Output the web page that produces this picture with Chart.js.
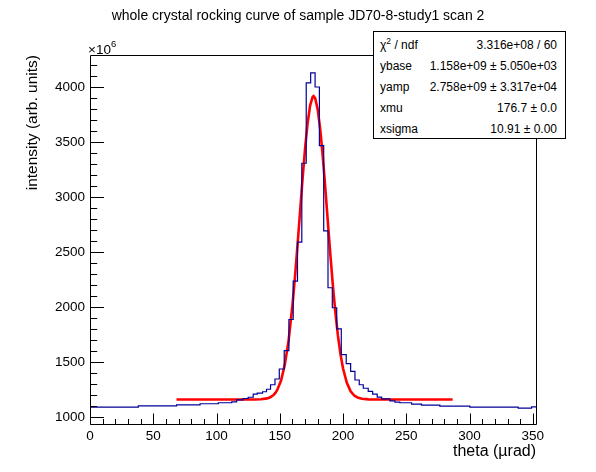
<!DOCTYPE html>
<html>
<head>
<meta charset="utf-8">
<script src="https://cdn.jsdelivr.net/npm/chart.js@4.4.1/dist/chart.umd.min.js"></script>
<style>
html,body{margin:0;padding:0;background:#fff;}
#wrap{position:relative;width:596px;height:472px;font-family:"Liberation Sans",Arial,Helvetica,sans-serif;color:#000;}
canvas{position:absolute;left:0;top:0;}
#title{position:absolute;left:0;width:596px;top:6px;text-align:center;font-size:14px;line-height:18px;white-space:nowrap;}
#mult{position:absolute;left:88px;top:37px;font-size:13.5px;line-height:16px;white-space:nowrap;}
#mult sup{font-size:9.5px;position:relative;top:-1px;}
#stats{position:absolute;left:373px;top:31px;width:191px;height:106px;border:1px solid #000;background:#fff;font-size:12px;}
.row{position:absolute;left:6px;right:8px;height:16px;line-height:16px;white-space:nowrap;}
.row .k{position:absolute;left:0;top:0;}
.row .v{position:absolute;right:0;top:0;}
.row sup{font-size:8.5px;line-height:0;}
</style>
</head>
<body>
<div id="wrap">
  <canvas id="c" width="596" height="472"></canvas>
  <div id="title">whole crystal rocking curve of sample JD70-8-study1 scan 2</div>
  <div id="mult">×10<sup>6</sup></div>
  <div id="stats">
    <div class="row" style="top:4.5px"><span class="k">χ<sup>2</sup> / ndf</span><span class="v">3.316e+08 / 60</span></div>
    <div class="row" style="top:25.5px"><span class="k">ybase</span><span class="v">1.158e+09 ± 5.050e+03</span></div>
    <div class="row" style="top:46.5px"><span class="k">yamp</span><span class="v">2.758e+09 ± 3.317e+04</span></div>
    <div class="row" style="top:67.5px"><span class="k">xmu</span><span class="v">176.7 ± 0.0</span></div>
    <div class="row" style="top:88.5px"><span class="k">xsigma</span><span class="v">10.91 ± 0.00</span></div>
  </div>
</div>
<script>
// ---- data (intensity in units of 10^6) ----
const binEdges = [0, 38.2, 68.4, 87, 101.4, 112, 115.9, 121, 125, 129, 132.2, 136.4, 139.5, 142.7, 146.2, 149.6, 153.5, 157.2, 160.6, 164, 167.4, 170.9, 174.4, 177.9, 181.3, 184.7, 188.1, 191.5, 195, 198.6, 202.5, 206, 209.4, 212.8, 216, 219.9, 223.4, 227, 230.5, 237, 241, 244.9, 254.2, 262, 276.5, 300.2, 338.4, 349, 352.9];
const binCounts = [1089, 1100, 1109, 1119, 1128, 1137, 1155, 1167, 1178, 1207, 1216, 1228, 1251, 1292, 1344, 1435, 1602, 1885, 2234, 2588, 3306, 4036, 4127, 3999, 3466, 2691, 2174, 1992, 1800, 1566, 1484, 1413, 1335, 1292, 1260, 1231, 1207, 1180, 1164, 1146, 1134, 1128, 1116, 1107, 1098, 1089, 1079, 1091];

const fitX = [68.4, 100, 120, 130, 135, 140, 142.5, 145, 146.5, 148, 151, 154, 157, 160, 162, 164, 166, 168, 170, 172, 174, 176, 176.7, 178, 180, 182, 184, 186, 188, 190, 192, 194, 196, 198, 200, 203, 206, 209, 212, 215, 220, 230, 250, 286.6];
const fitY = [1158, 1158, 1158, 1158, 1160, 1168, 1178, 1198, 1218, 1245, 1330, 1475, 1698, 2013, 2271, 2559, 2862, 3165, 3442, 3672, 3833, 3910, 3916, 3896, 3793, 3609, 3363, 3076, 2771, 2470, 2189, 1943, 1735, 1568, 1440, 1309, 1233, 1192, 1173, 1164, 1159, 1158, 1158, 1158];

const xTickValues = [0, 50, 100, 150, 200, 250, 300, 350];
const yTickValues = [1000, 1500, 2000, 2500, 3000, 3500, 4000];
const xRange = [0, 352.5];
const yRange = [935, 4290];

const FONT = '"Liberation Sans", Arial, Helvetica, sans-serif';

const histPoints = binEdges.map((e, i) => ({x: e, y: binCounts[Math.min(i, binCounts.length - 1)]}));
const fitPoints = fitX.map((v, i) => ({x: v, y: fitY[i]}));

const frameTicks = {
  id: 'frameTicks',
  afterDatasetsDraw(chart) {
    const {ctx, chartArea: a, scales: {x, y}} = chart;
    ctx.save();
    ctx.strokeStyle = '#000';
    ctx.lineWidth = 1;
    ctx.beginPath();
    const L = Math.round(a.left) + 0.5, R = Math.round(a.right) + 0.5;
    const T = Math.round(a.top) + 0.5, B = Math.round(a.bottom) + 0.5;
    ctx.rect(L, T, R - L, B - T);
    for (let v = 0; v <= xRange[1] + 1e-9; v += 10) {
      const px = Math.round(x.getPixelForValue(v)) + 0.5;
      const len = xTickValues.includes(v) ? 11 : 5.5;
      ctx.moveTo(px, B); ctx.lineTo(px, B - len);
    }
    for (let v = 1000; v <= yRange[1]; v += 100) {
      const py = Math.round(y.getPixelForValue(v)) + 0.5;
      const len = yTickValues.includes(v) ? 13.5 : 6.7;
      ctx.moveTo(L, py); ctx.lineTo(L + len, py);
    }
    ctx.stroke();
    ctx.restore();
  }
};

new Chart(document.getElementById('c'), {
  type: 'line',
  data: {
    datasets: [
      {label: 'histogram', data: histPoints, borderColor: '#000099', borderWidth: 1.2, stepped: true, pointRadius: 0, fill: false},
      {label: 'fit', data: fitPoints, borderColor: '#ff0000', borderWidth: 2.6, pointRadius: 0, tension: 0, fill: false}
    ]
  },
  options: {
    responsive: false,
    animation: false,
    layout: {padding: {left: 0, right: 60, top: 55, bottom: 0}},
    plugins: {legend: {display: false}, tooltip: {enabled: false}, title: {display: false}},
    scales: {
      x: {
        type: 'linear', min: xRange[0], max: xRange[1],
        afterBuildTicks: s => { s.ticks = xTickValues.map(v => ({value: v})); },
        afterFit: s => { s.height = 48; },
        grid: {display: false, drawTicks: false},
        border: {display: false},
        ticks: {color: '#000', font: {family: FONT, size: 13.5}, padding: 4, maxRotation: 0, autoSkip: false, callback: v => String(v)},
        title: {display: true, text: 'theta (µrad)', align: 'end', color: '#000', font: {family: FONT, size: 16}, padding: {top: 0, bottom: 10.7}}
      },
      y: {
        type: 'linear', min: yRange[0], max: yRange[1],
        afterBuildTicks: s => { s.ticks = yTickValues.map(v => ({value: v})); },
        afterFit: s => { s.width = 90; },
        grid: {display: false, drawTicks: false},
        border: {display: false},
        ticks: {color: '#000', font: {family: FONT, size: 13.5}, padding: 5, autoSkip: false, callback: v => String(v)},
        title: {display: true, text: 'intensity (arb. units)', align: 'end', color: '#000', font: {family: FONT, size: 15.5}, padding: {top: 23.7, bottom: 0}}
      }
    }
  },
  plugins: [frameTicks]
});
</script>
</body>
</html>
